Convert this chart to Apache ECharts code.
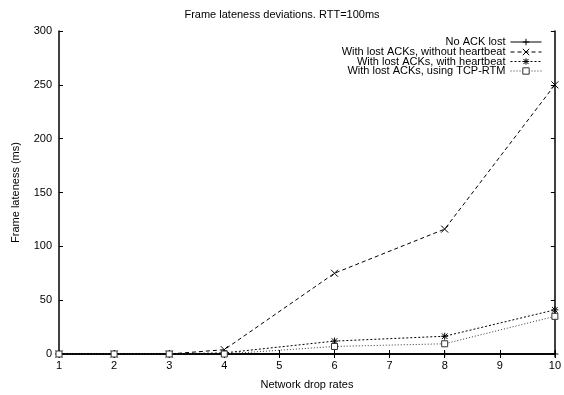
<!DOCTYPE html>
<html>
<head>
<meta charset="utf-8">
<script src="https://cdn.jsdelivr.net/npm/echarts@6/dist/echarts.min.js"></script>
<style>
  html, body { margin: 0; padding: 0; background: #fff; }
  #chart { width: 564px; height: 395px; }
</style>
</head>
<body>
<div id="chart"></div>
<script>
// drop rates on the x axis
let dropRates = [1, 2, 3, 4, 6, 8, 10];
// frame lateness (ms) per series
let noAckLost = [0, 0, 0, 0, 0, 0, 0];
let withoutHeartbeat = [0, 0, 0, 4, 75, 116, 250];
let withHeartbeat = [0, 0, 0, 1, 12, 16.5, 41];
let usingTcpRtm = [0, 0, 0, 0, 7, 9.5, 35];
let seriesNames = [
  'No ACK lost',
  'With lost ACKs, without heartbeat',
  'With lost ACKs, with heartbeat',
  'With lost ACKs, using TCP-RTM'
];

function pairs(ys) {
  return dropRates.map(function (x, i) { return [x, ys[i]]; });
}

let FONT = 'Liberation Sans';
// gnuplot like point shapes
let plusPath = 'path://M0,5L10,5M5,0L5,10';
let crossPath = 'path://M0,0L10,10M10,0L0,10';
let starPath = 'path://M0,5L10,5M5,0L5,10M1,1L9,9M9,1L1,9';
let boxPath = 'path://M0,0L10,0L10,10L0,10Z';

let chart = echarts.init(document.getElementById('chart'), null, { renderer: 'canvas' });

function lineSeries(name, ys, symbol, size, dash, color, fill) {
  return {
    name: name,
    type: 'line',
    xAxisIndex: 0,
    yAxisIndex: 0,
    data: pairs(ys),
    symbol: symbol,
    symbolSize: size,
    showAllSymbol: true,
    animation: false,
    lineStyle: { color: color, width: 1, type: dash },
    itemStyle: { color: fill || color, borderColor: color, borderWidth: 1 }
  };
}

function legendFor(name, top) {
  return {
    data: [name],
    right: 22,
    top: top,
    orient: 'vertical',
    align: 'right',
    padding: 0,
    itemWidth: 31,
    itemHeight: 8,
    selectedMode: false,
    lineStyle: { width: 1 },
    itemStyle: { borderWidth: 1 },
    textStyle: { fontFamily: FONT, fontSize: 11, color: '#000' }
  };
}

let axisCommon = {
  axisLine: { show: true, lineStyle: { color: '#000', width: 1.5 } },
  axisTick: { show: true, inside: true, length: 4, lineStyle: { color: '#000' } },
  splitLine: { show: false },
  axisLabel: { fontFamily: FONT, fontSize: 11, color: '#000' }
};

let option = {
  backgroundColor: '#fff',
  animation: false,
  title: {
    text: 'Frame lateness deviations. RTT=100ms',
    left: 'center',
    top: 4,
    textStyle: { fontFamily: FONT, fontSize: 11, fontWeight: 'normal', color: '#000' }
  },
  legend: [
    legendFor(seriesNames[0], 36.5),
    legendFor(seriesNames[1], 46.5),
    legendFor(seriesNames[2], 56),
    legendFor(seriesNames[3], 65.5)
  ],
  grid: { left: 59, right: 9, top: 31, bottom: 35 },
  xAxis: [
    Object.assign({}, axisCommon, {
      type: 'value', min: 1, max: 10, interval: 1, position: 'bottom',
      name: 'Network drop rates', nameLocation: 'middle', nameGap: 25,
      nameTextStyle: { fontFamily: FONT, fontSize: 11, color: '#000' },
      axisLabel: { fontFamily: FONT, fontSize: 11, color: '#000', margin: 6 }
    }),
    Object.assign({}, axisCommon, {
      type: 'value', min: 1, max: 10, interval: 1, position: 'top',
      axisLabel: { show: false }
    })
  ],
  yAxis: [
    Object.assign({}, axisCommon, {
      type: 'value', min: 0, max: 300, interval: 50, position: 'left',
      name: 'Frame lateness (ms)', nameLocation: 'middle', nameGap: 38,
      nameTextStyle: { fontFamily: FONT, fontSize: 11, color: '#000' },
      axisLabel: { fontFamily: FONT, fontSize: 11, color: '#000', margin: 7 }
    }),
    Object.assign({}, axisCommon, {
      type: 'value', min: 0, max: 300, interval: 50, position: 'right',
      axisLabel: { show: false }
    })
  ],
  series: [
    lineSeries(seriesNames[0], noAckLost, plusPath, 7, 'solid', '#000'),
    lineSeries(seriesNames[1], withoutHeartbeat, crossPath, 7, [4, 3], '#000'),
    lineSeries(seriesNames[2], withHeartbeat, starPath, 7, [2, 2], '#000'),
    lineSeries(seriesNames[3], usingTcpRtm, boxPath, 6, [1, 2], '#333', '#fff')
  ]
};

chart.setOption(option);
</script>
</body>
</html>
